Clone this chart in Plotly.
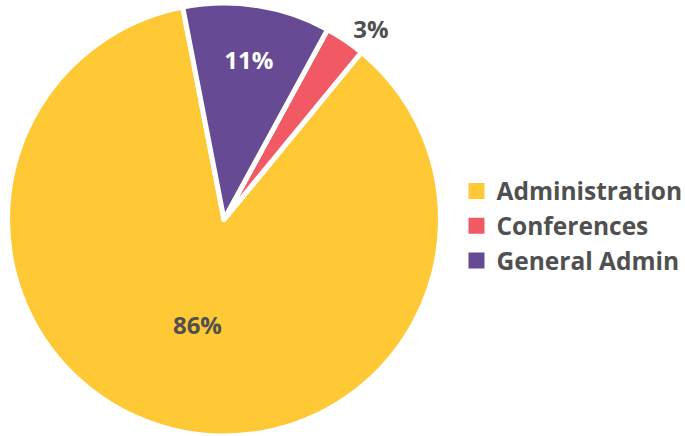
import plotly.graph_objects as go

categories = ["Administration", "Conferences", "General Admin"]
values = [86, 3, 11]
colors = ["#FFC835", "#F15A65", "#664A93"]
text_colors = ["#505050", "#505050", "#FFFFFF"]
text_positions = ["inside", "outside", "inside"]

FONT = "Open Sans"
GRAY = "#505050"

fig = go.Figure()
fig.add_trace(go.Pie(
    labels=categories,
    values=values,
    sort=False,
    direction="counterclockwise",
    rotation=39.4,
    marker=dict(colors=colors, line=dict(color="white", width=5)),
    texttemplate="%{percent:.0%}",
    textposition=text_positions,
    insidetextorientation="horizontal",
    insidetextfont=dict(color=text_colors, family=FONT, size=24, weight="bold"),
    outsidetextfont=dict(color=GRAY, family=FONT, size=24, weight="bold"),
    domain=dict(x=[0.011, 0.643], y=[0, 1]),
    showlegend=False,
    hoverinfo="label+percent",
))

for name, col in zip(categories, colors):
    fig.add_trace(go.Scatter(
        x=[None], y=[None], mode="markers", name=name,
        marker=dict(symbol="square", size=16, color=col),
        hoverinfo="skip",
    ))

fig.update_layout(
    width=685, height=436,
    margin=dict(l=0, r=0, t=3, b=0, autoexpand=False),
    paper_bgcolor="white", plot_bgcolor="white",
    xaxis=dict(visible=False), yaxis=dict(visible=False),
    legend=dict(
        x=0.6664, xanchor="left", y=0.485, yanchor="middle",
        font=dict(family=FONT, size=24.5, color=GRAY, weight="bold"),
        itemsizing="trace",
    ),
)

fig.write_html(
    "out.html",
    config={"displayModeBar": False},
    post_script="document.body.style.margin='0';",
)
